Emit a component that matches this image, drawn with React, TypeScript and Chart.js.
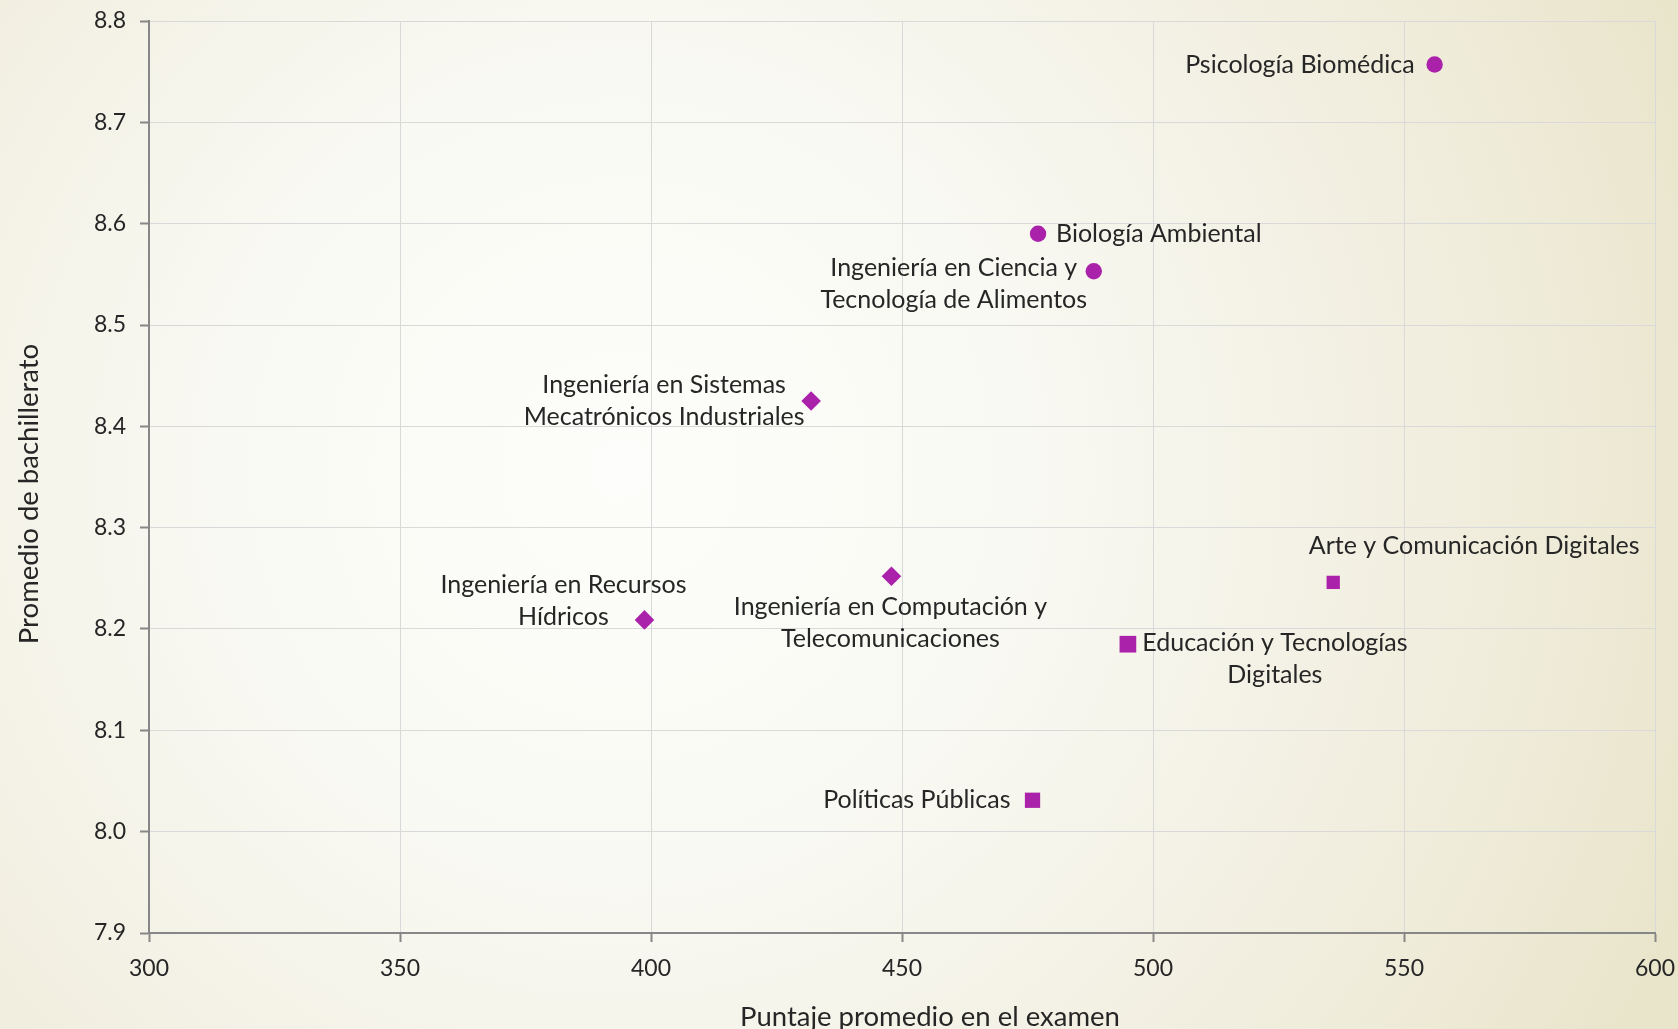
import React, { useEffect, useRef } from 'react';
import { Chart, registerables } from 'chart.js';

Chart.register(...registerables);

// ---- Data ----
const circleNames = ['Psicología Biomédica', 'Biología Ambiental', 'Ingeniería en Ciencia y\nTecnología de Alimentos'];
const circleX = [556.1, 477.1, 488.2];
const circleY = [8.757, 8.59, 8.553];

const diamondNames = ['Ingeniería en Sistemas\nMecatrónicos Industriales', 'Ingeniería en Recursos\nHídricos', 'Ingeniería en Computación y\nTelecomunicaciones'];
const diamondX = [431.9, 398.7, 447.9];
const diamondY = [8.425, 8.209, 8.252];

const squareNames = ['Arte y Comunicación Digitales', 'Educación y Tecnologías\nDigitales', 'Políticas Públicas'];
const squareX = [535.9, 495.0, 476.0];
const squareY = [8.246, 8.185, 8.031];

const xTitle = 'Puntaje promedio en el examen';
const yTitle = 'Promedio de bachillerato';
const xMin = 300, xMax = 600, xStep = 50;
const yMin = 7.9, yMax = 8.8, yStep = 0.1;

// ---- Label placement (pixels, relative to the mark) ----
type Place = { dx: number; dy: number; align: CanvasTextAlign };
const circlePlace: Place[] = [
  { dx: -20, dy: 0, align: 'right' },
  { dx: 18, dy: 0, align: 'left' },
  { dx: -140, dy: 13, align: 'center' },
];
const diamondPlace: Place[] = [
  { dx: -147, dy: 0, align: 'center' },
  { dx: -81, dy: -19, align: 'center' },
  { dx: -1, dy: 47, align: 'center' },
];
const squarePlace: Place[] = [
  { dx: 141, dy: -36, align: 'center' },
  { dx: 147, dy: 15, align: 'center' },
  { dx: -22, dy: 0, align: 'right' },
];

const allNames = [circleNames, diamondNames, squareNames];
const allPlace = [circlePlace, diamondPlace, squarePlace];

const MARK = '#AA22AA';
const TEXT = '#262626';
const FONT = 'Lato, "Open Sans", sans-serif';

const toPoints = (xs: number[], ys: number[]) => xs.map((x, i) => ({ x, y: ys[i] }));

const bgPlugin = {
  id: 'bg',
  beforeDraw(chart: any) {
    const { ctx, width, height } = chart;
    ctx.save();
    const g = ctx.createRadialGradient(620, 470, 0, 620, 470, 1150);
    g.addColorStop(0, '#FDFDFB');
    g.addColorStop(0.35, '#F9F9F3');
    g.addColorStop(0.75, '#F0EDDD');
    g.addColorStop(1, '#E9E5CB');
    ctx.fillStyle = g;
    ctx.fillRect(0, 0, width, height);
    ctx.restore();
  },
};

const labelPlugin = {
  id: 'pointLabels',
  afterDatasetsDraw(chart: any) {
    const ctx = chart.ctx;
    ctx.save();
    ctx.font = `25px ${FONT}`;
    ctx.fillStyle = TEXT;
    ctx.textBaseline = 'middle';
    const lh = 32;
    chart.data.datasets.forEach((_ds: any, di: number) => {
      const meta = chart.getDatasetMeta(di);
      meta.data.forEach((pt: any, i: number) => {
        const lines = allNames[di][i].split('\n');
        const p = allPlace[di][i];
        ctx.textAlign = p.align;
        const startY = pt.y + p.dy - ((lines.length - 1) * lh) / 2;
        lines.forEach((ln: string, k: number) => ctx.fillText(ln, pt.x + p.dx, startY + k * lh));
      });
    });
    ctx.restore();
  },
};

// Axis titles, placed relative to the chart area
const axisTitlePlugin = {
  id: 'axisTitles',
  afterDraw(chart: any) {
    const { ctx, chartArea } = chart;
    ctx.save();
    ctx.font = `27.5px ${FONT}`;
    ctx.fillStyle = TEXT;
    ctx.textAlign = 'center';
    ctx.textBaseline = 'middle';
    const cx = (chartArea.left + chartArea.right) / 2;
    ctx.fillText(xTitle, cx + 28, chartArea.bottom + 84);
    const cy = (chartArea.top + chartArea.bottom) / 2;
    ctx.translate(29, cy + 17);
    ctx.rotate(-Math.PI / 2);
    ctx.fillText(yTitle, 0, 0);
    ctx.restore();
  },
};

export default function App() {
  const ref = useRef<HTMLCanvasElement | null>(null);

  useEffect(() => {
    document.body.style.margin = '0';
    let chart: Chart | null = null;
    let cancelled = false;
    const make = () => {
      if (cancelled || !ref.current) return;
      chart = new Chart(ref.current, {
        type: 'scatter',
        data: {
          datasets: [
            {
              label: 'circles',
              data: toPoints(circleX, circleY),
              pointStyle: 'circle',
              pointRadius: 8.2,
              backgroundColor: MARK,
              borderColor: MARK,
              borderWidth: 0,
            },
            {
              label: 'diamonds',
              data: toPoints(diamondX, diamondY),
              pointStyle: 'rectRot',
              pointRadius: 9.8,
              backgroundColor: MARK,
              borderColor: MARK,
              borderWidth: 0,
            },
            {
              label: 'squares',
              data: toPoints(squareX, squareY),
              pointStyle: 'rect',
              pointRadius: [9.4, 11.8, 10.8],
              backgroundColor: MARK,
              borderColor: MARK,
              borderWidth: 0,
            },
          ],
        },
        options: {
          responsive: false,
          animation: false,
          devicePixelRatio: 1,
          layout: { padding: { top: 21, right: 23, left: 0, bottom: 0 } },
          plugins: {
            legend: { display: false },
            tooltip: { enabled: false },
          },
          scales: {
            x: {
              type: 'linear',
              min: xMin,
              max: xMax,
              afterFit: (s: any) => {
                s.height = 96;
                s.paddingLeft = 0;
                s.paddingRight = 0;
              },
              ticks: {
                stepSize: xStep,
                color: TEXT,
                font: { family: FONT, size: 23 },
                padding: 13,
              },
              grid: { color: '#D9D9D9', lineWidth: 1, tickColor: '#878787', tickLength: 9, tickWidth: 2 },
              border: { color: '#878787', width: 2 },
              title: { display: false },
            },
            y: {
              type: 'linear',
              min: yMin,
              max: yMax,
              afterFit: (s: any) => {
                s.width = 149;
                s.paddingTop = 0;
                s.paddingBottom = 0;
              },
              ticks: {
                stepSize: yStep,
                color: TEXT,
                font: { family: FONT, size: 23 },
                padding: 14,
                callback: (v: any) => Number(v).toFixed(1),
              },
              grid: { color: '#D9D9D9', lineWidth: 1, tickColor: '#878787', tickLength: 9, tickWidth: 2 },
              border: { color: '#878787', width: 2 },
              title: { display: false },
            },
          },
        },
        plugins: [bgPlugin, labelPlugin, axisTitlePlugin],
      } as any);
    };
    const fontsP = (document as any).fonts
      ? Promise.all([
          (document as any).fonts.load(`23px Lato`),
          (document as any).fonts.load(`27px Lato`),
        ]).catch(() => null)
      : Promise.resolve(null);
    fontsP.then(make);
    return () => {
      cancelled = true;
      if (chart) chart.destroy();
    };
  }, []);

  return (
    <div style={{ position: 'absolute', left: 0, top: 0, width: 1678, height: 1029 }}>
      <canvas ref={ref} width={1678} height={1029} style={{ display: 'block' }} />
    </div>
  );
}
